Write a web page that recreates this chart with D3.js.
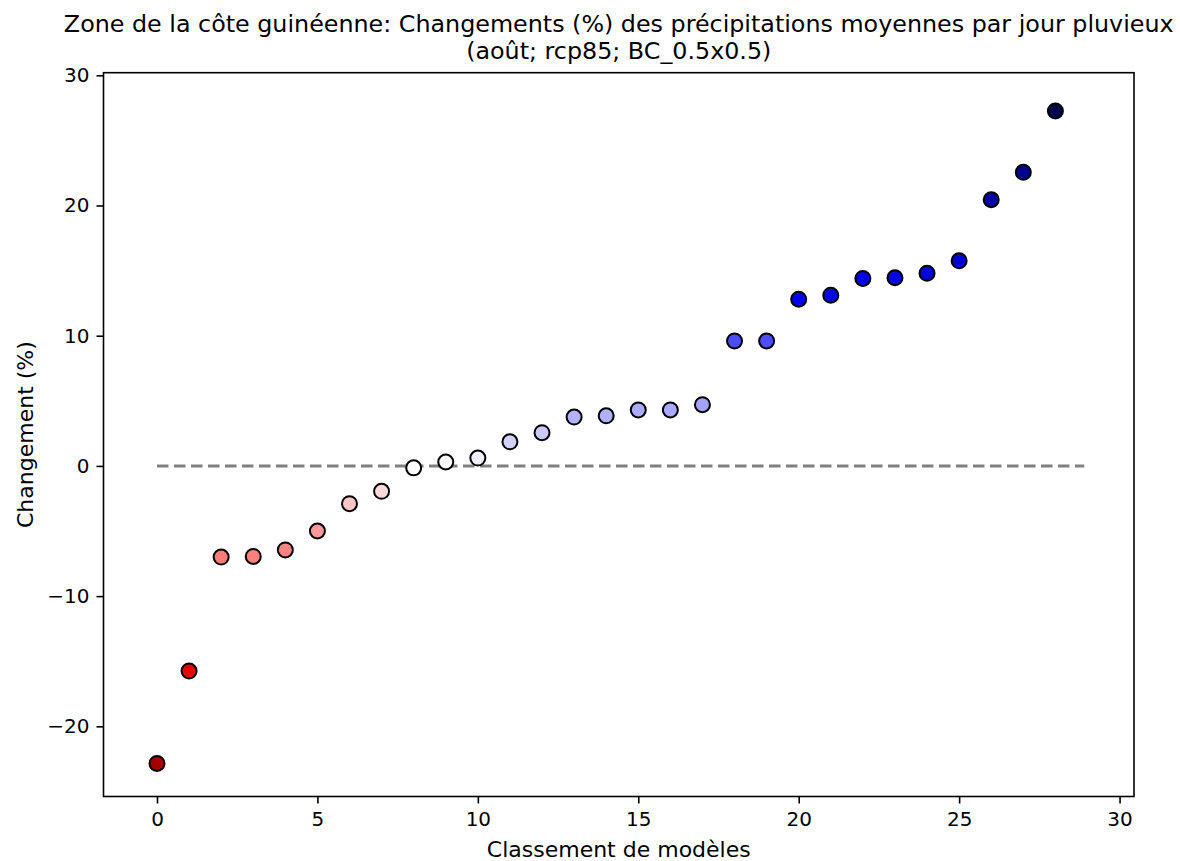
<!DOCTYPE html>
<html><head><meta charset="utf-8">
<script src="https://cdn.jsdelivr.net/npm/d3@7"></script>
<style>body{margin:0;background:#fff;} text{font-family:"DejaVu Sans",sans-serif;fill:#000;}</style>
</head><body><svg id="c" width="1180" height="861"></svg>
<script>
const ranks = d3.range(29);
const values = [-22.85,-15.75,-7.0,-6.95,-6.45,-5.0,-2.9,-1.95,-0.15,0.3,0.6,1.85,2.55,3.75,3.85,4.3,4.3,4.7,9.6,9.6,12.8,13.1,14.4,14.45,14.8,15.75,20.45,22.55,27.25];
const colors = ["#a50000","#e80000","#ff7b7b","#ff7e7e","#ff8585","#ff9898","#ffc6c6","#ffdada","#ffffff","#f7f7ff","#efefff","#d2d2ff","#cacaff","#b2b2ff","#b0b0ff","#aaaaff","#aaaaff","#a2a2ff","#4c4cff","#4d4dff","#0000f4","#0000ef","#0000e2","#0000e0","#0000dc","#0000d0","#0000a4","#000090","#000050"];
const xTicks = [0,5,10,15,20,25,30];
const yTicks = [-20,-10,0,10,20,30];
const zeroLine = [0, 28.9];
const title1 = "Zone de la côte guinéenne: Changements (%) des précipitations moyennes par jour pluvieux";
const title2 = "(août; rcp85; BC_0.5x0.5)";
const xLabel = "Classement de modèles";
const yLabel = "Changement (%)";

const L=103.5, R=1134, T=72.7, B=796.5;
const svg = d3.select("#c");
const x = d3.scaleLinear().domain([-1.667,30.45]).range([L,R]);
const y = d3.scaleLinear().domain([-25.39,30.2]).range([B,T]);

svg.append("line").attr("x1",x(zeroLine[0])).attr("x2",x(zeroLine[1]))
  .attr("y1",y(0)).attr("y2",y(0)).attr("stroke","#808080").attr("stroke-width",3)
  .attr("stroke-dasharray","11.5,5.5");

svg.selectAll("circle.p").data(values).enter().append("circle")
  .attr("cx",(d,i)=>x(ranks[i])).attr("cy",d=>y(d)).attr("r",7.5)
  .attr("fill",(d,i)=>colors[i]).attr("stroke","#000").attr("stroke-width",2);

const xa = svg.append("g").attr("transform",`translate(0,${B})`)
  .call(d3.axisBottom(x).tickValues(xTicks).tickSize(7).tickPadding(8).tickFormat(d3.format("d")));
const ya = svg.append("g").attr("transform",`translate(${L},0)`)
  .call(d3.axisLeft(y).tickValues(yTicks).tickSize(7).tickPadding(7).tickFormat(d=>d<0?"\u2212"+Math.abs(d):d));
[xa,ya].forEach(a=>{a.select(".domain").remove();a.selectAll("text").attr("font-size",20).style("font-family","DejaVu Sans");a.selectAll("line").attr("stroke","#000").attr("stroke-width",1.6);});

svg.append("rect").attr("x",L).attr("y",T).attr("width",R-L).attr("height",B-T)
  .attr("fill","none").attr("stroke","#000").attr("stroke-width",1.6);

const cx=(L+R)/2;
svg.append("text").attr("x",cx).attr("y",32).attr("text-anchor","middle").attr("font-size",23.8).text(title1);
svg.append("text").attr("x",cx).attr("y",59).attr("text-anchor","middle").attr("font-size",23.8).text(title2);
svg.append("text").attr("x",cx).attr("y",857).attr("text-anchor","middle").attr("font-size",22).text(xLabel);
svg.append("text").attr("transform",`translate(33,${(T+B)/2}) rotate(-90)`).attr("text-anchor","middle").attr("font-size",22).text(yLabel);
</script></body></html>
